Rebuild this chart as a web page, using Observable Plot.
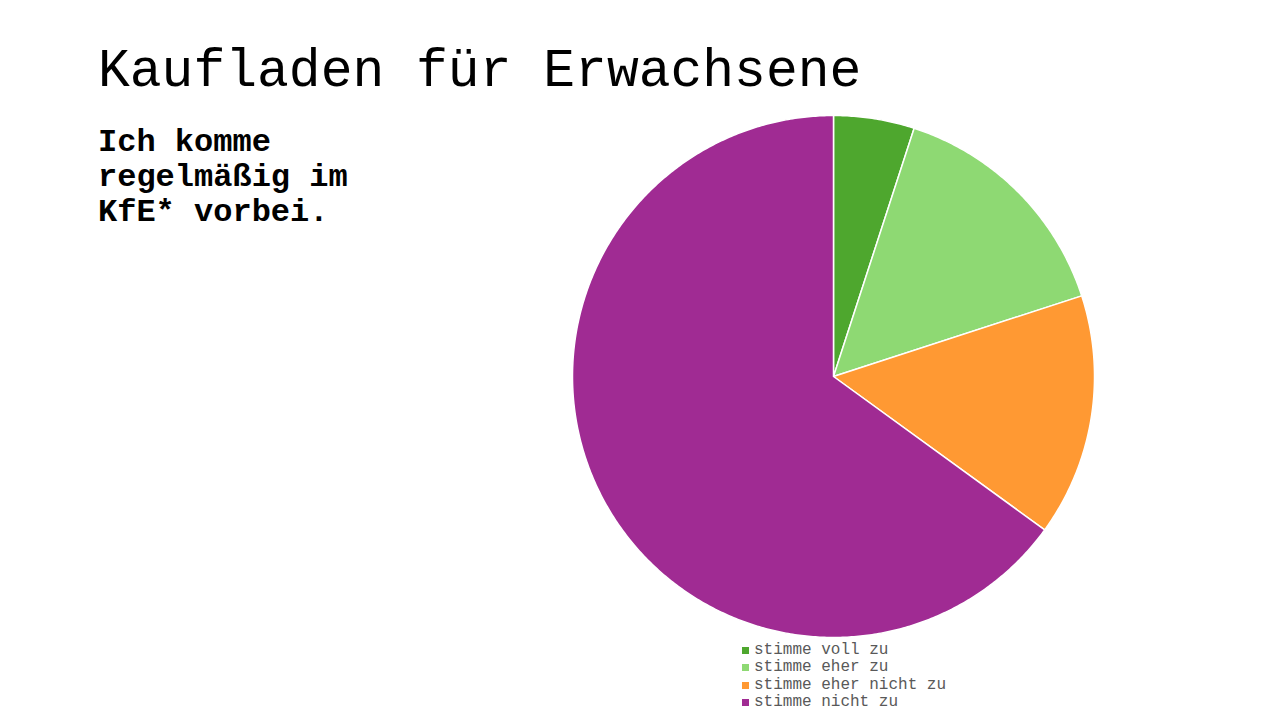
<!DOCTYPE html>
<html>
<head>
<meta charset="utf-8">
<script src="https://cdn.jsdelivr.net/npm/d3@7"></script>
<script src="https://cdn.jsdelivr.net/npm/@observablehq/plot@0.6"></script>
<style>
  html, body { margin: 0; padding: 0; background: #fff; }
  #page { position: relative; width: 1280px; height: 720px; overflow: hidden; font-family: "Courier New", "Nimbus Mono PS", "FreeMono", "Liberation Mono", monospace; }
  #title { position: absolute; left: 98px; top: 46px; font-size: 53px; line-height: 53px; color: #000; white-space: nowrap; }
  #subtitle { position: absolute; left: 98px; top: 125px; font-size: 32px; line-height: 35px; font-weight: bold; color: #000; white-space: nowrap; }
  #chart { position: absolute; left: 0; top: 0; }
  #legend { position: absolute; left: 742px; top: 642px; font-size: 16px; line-height: 17.3px; color: #595959; }
  #legend .row { display: flex; align-items: center; white-space: nowrap; }
  #legend .sw { width: 7px; height: 7px; margin-right: 5px; }
</style>
</head>
<body>
<div id="page">
  <div id="chart"></div>
  <div id="title">Kaufladen für Erwachsene</div>
  <div id="subtitle">Ich komme<br>regelmäßig im<br>KfE* vorbei.</div>
  <div id="legend"></div>
</div>
<script>
const categories = ["stimme voll zu", "stimme eher zu", "stimme eher nicht zu", "stimme nicht zu"];
const values = [5, 15, 15, 65];
const colors = ["#4EA72E", "#8ED973", "#FF9933", "#A02B93"];

const data = categories.map((label, i) => ({label, value: values[i]}));
const arcs = d3.pie().sort(null).value(d => d.value)(data);

// Build slice outlines (center -> arc -> center) from pie angles
const pts = [];
for (const a of arcs) {
  const label = a.data.label;
  pts.push({label, x: 0, y: 0});
  const n = Math.max(2, Math.ceil((a.endAngle - a.startAngle) / (Math.PI / 360)));
  for (let k = 0; k <= n; k++) {
    const t = a.startAngle + (a.endAngle - a.startAngle) * k / n;
    pts.push({label, x: Math.sin(t), y: Math.cos(t)});
  }
  pts.push({label, x: 0, y: 0});
}

const chart = Plot.plot({
  width: 1280,
  height: 720,
  marginLeft: 572,
  marginRight: 186,
  marginTop: 115,
  marginBottom: 83,
  x: {domain: [-1, 1], axis: null},
  y: {domain: [-1, 1], axis: null},
  color: {domain: categories, range: colors},
  marks: [
    Plot.line(pts, {x: "x", y: "y", z: "label", fill: "label", stroke: "white", strokeWidth: 1.5, strokeLinejoin: "round", curve: "linear"})
  ]
});
document.getElementById("chart").appendChild(chart);

const legend = d3.select("#legend");
categories.forEach((c, i) => {
  const row = legend.append("div").attr("class", "row");
  row.append("div").attr("class", "sw").style("background", colors[i]);
  row.append("span").text(c);
});
</script>
</body>
</html>
